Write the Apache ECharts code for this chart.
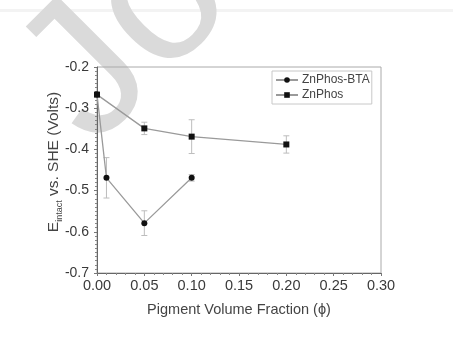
<!DOCTYPE html>
<html>
<head>
<meta charset="utf-8">
<script src="https://cdn.jsdelivr.net/npm/echarts@6/dist/echarts.min.js"></script>
<style>
  html, body { margin: 0; padding: 0; background: #fff; }
  #chart { width: 453px; height: 349px; }
</style>
</head>
<body>
<div id="chart"></div>
<script>
// values
var btaX = [0, 0.01, 0.05, 0.10];
var btaY = [-0.267, -0.469, -0.579, -0.469];
var btaErr = [0, 0.049, 0.030, 0.008];

var phosX = [0, 0.05, 0.10, 0.20];
var phosY = [-0.267, -0.349, -0.369, -0.388];
var phosErr = [0, 0.015, 0.041, 0.021];

var xTicks = ['0.00', '0.05', '0.10', '0.15', '0.20', '0.25', '0.30'];

function pairs(xs, ys) {
    return xs.map(function (x, i) { return [x, ys[i]]; });
}
function bars(xs, ys, es) {
    var out = [];
    xs.forEach(function (x, i) {
        if (es[i] > 0) out.push([x, ys[i] - es[i], ys[i] + es[i]]);
    });
    return out;
}

function errorBar(params, api) {
    var x = api.value(0);
    var lo = api.coord([x, api.value(1)]);
    var hi = api.coord([x, api.value(2)]);
    var cap = 3;
    var st = { stroke: '#bdbdbd', lineWidth: 1 };
    return {
        type: 'group',
        children: [
            { type: 'line', shape: { x1: lo[0], y1: lo[1], x2: hi[0], y2: hi[1] }, style: st },
            { type: 'line', shape: { x1: lo[0] - cap, y1: lo[1], x2: lo[0] + cap, y2: lo[1] }, style: st },
            { type: 'line', shape: { x1: hi[0] - cap, y1: hi[1], x2: hi[0] + cap, y2: hi[1] }, style: st }
        ]
    };
}

var chart = echarts.init(document.getElementById('chart'));
var font = 'Liberation Sans, Arial, sans-serif';

chart.setOption({
    animation: false,
    backgroundColor: '#fff',
    graphic: [
        {
            type: 'rect', z: -10, silent: true,
            shape: { x: 0, y: 9, width: 453, height: 3 },
            style: { fill: '#f3f3f3' }
        },
        {
            // diagonal watermark of the source page
            type: 'text', z: -5, silent: true,
            x: 124, y: 180, rotation: Math.PI / 4,
            style: {
                text: 'Journal Pre-proof',
                font: '195px Liberation Sans, Arial, sans-serif',
                fill: '#dadada',
                textAlign: 'left', textVerticalAlign: 'bottom'
            }
        }
    ],
    grid: { left: 97, right: 72, top: 67, bottom: 76, show: true, borderColor: '#aaa', borderWidth: 1 },
    legend: {
        orient: 'vertical',
        left: 272, top: 71,
        padding: [3, 2, 3, 3],
        itemGap: 3,
        itemWidth: 22, itemHeight: 7,
        borderColor: '#c8c8c8', borderWidth: 1,
        textStyle: { fontFamily: font, fontSize: 12, color: '#444', padding: [0, 0, 0, -1] },
        data: ['ZnPhos-BTA', 'ZnPhos']
    },
    xAxis: {
        type: 'value',
        min: 0, max: 0.3, interval: 0.05,
        name: 'Pigment Volume Fraction (\u03D5)',
        nameLocation: 'middle', nameGap: 29,
        nameTextStyle: { fontFamily: font, fontSize: 14.5, color: '#444' },
        axisLine: { lineStyle: { color: '#666' } },
        axisTick: { length: 3, lineStyle: { color: '#777' } },
        minorTick: { show: true, splitNumber: 5, length: 2, lineStyle: { color: '#888' } },
        splitLine: { show: false },
        axisLabel: {
            fontFamily: font, fontSize: 14.5, color: '#3a3a3a', margin: 5,
            formatter: function (v) { return xTicks[Math.round(v / 0.05)]; }
        }
    },
    yAxis: {
        type: 'value',
        min: -0.7, max: -0.2, interval: 0.1,
        name: '{e|E}{s|intact}{e| vs. SHE (Volts)}',
        nameLocation: 'middle', nameGap: 33,
        nameMoveOverlap: false,
        nameTextStyle: {
            fontFamily: font, color: '#444',
            padding: [0, 0, 0, 16],
            rich: {
                e: { fontFamily: font, fontSize: 15.5, color: '#444', verticalAlign: 'top', lineHeight: 18 },
                s: { fontFamily: font, fontSize: 9, color: '#444', verticalAlign: 'bottom', lineHeight: 18 }
            }
        },
        axisLine: { lineStyle: { color: '#666' } },
        axisTick: { length: 3, lineStyle: { color: '#777' } },
        minorTick: { show: true, splitNumber: 10, length: 2, lineStyle: { color: '#888' } },
        splitLine: { show: false },
        axisLabel: {
            fontFamily: font, fontSize: 14, color: '#3a3a3a', margin: 8,
            formatter: function (v) { return v.toFixed(1); }
        }
    },
    series: [
        {
            name: 'ZnPhos-BTA', type: 'line',
            data: pairs(btaX, btaY),
            symbol: 'circle', symbolSize: 6,
            itemStyle: { color: '#111' },
            lineStyle: { color: '#9a9a9a', width: 1.3 },
            z: 3
        },
        {
            name: 'ZnPhos', type: 'line',
            data: pairs(phosX, phosY),
            symbol: 'rect', symbolSize: 6,
            itemStyle: { color: '#111' },
            lineStyle: { color: '#9a9a9a', width: 1.3 },
            z: 3
        },
        {
            type: 'custom', renderItem: errorBar,
            data: bars(btaX, btaY, btaErr), z: 2, silent: true
        },
        {
            type: 'custom', renderItem: errorBar,
            data: bars(phosX, phosY, phosErr), z: 2, silent: true
        }
    ]
});
</script>
</body>
</html>
